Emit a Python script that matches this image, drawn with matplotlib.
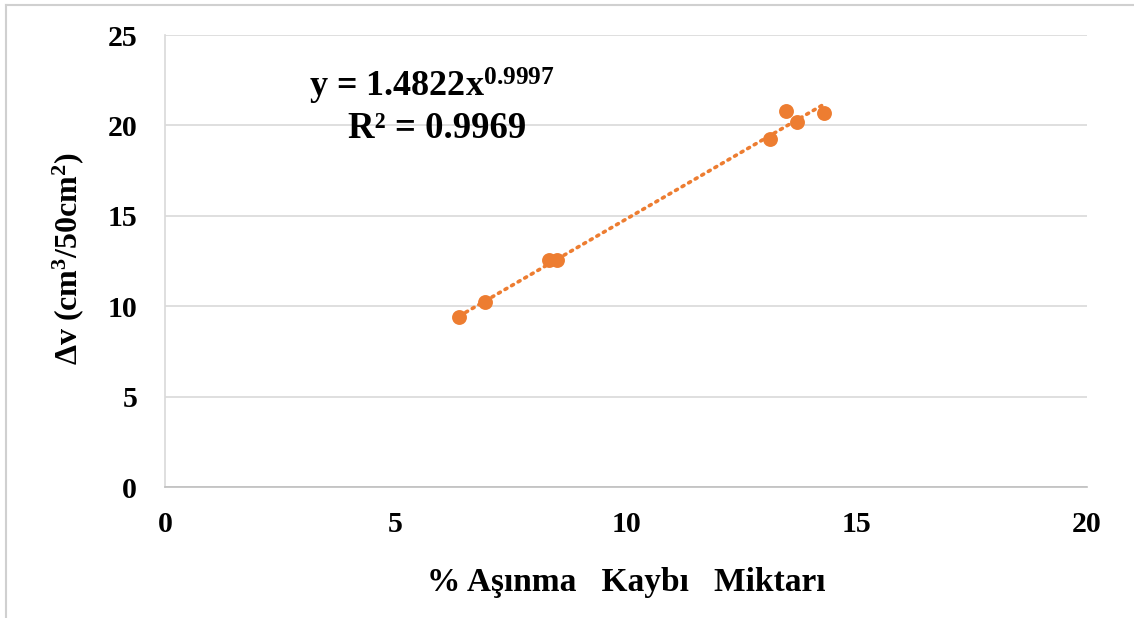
import numpy as np
import matplotlib
matplotlib.use("Agg")
import matplotlib.pyplot as plt
from matplotlib.lines import Line2D

plt.rcParams['font.family'] = ['Liberation Serif', 'DejaVu Serif']
plt.rcParams['mathtext.fontset'] = 'custom'
plt.rcParams['mathtext.rm'] = 'Liberation Serif:bold'
plt.rcParams['mathtext.bf'] = 'Liberation Serif:bold'
plt.rcParams['mathtext.default'] = 'bf'

# Data
wear_loss = [6.38, 6.94, 8.33, 8.51, 13.13, 13.46, 13.71, 14.30]
delta_v = [9.41, 10.24, 12.58, 12.58, 19.27, 20.79, 20.18, 20.68]
fit_a = 1.4822
fit_b = 0.9997
r_squared = 0.9969
x_ticks = [0, 5, 10, 15, 20]
y_ticks = [0, 5, 10, 15, 20, 25]

orange = '#ED7D31'
grid_c = '#D9D9D9'

fig = plt.figure(figsize=(11.34, 6.18), dpi=100)
ax = fig.add_axes([165/1134, 1-487/618, (1087-165)/1134, (487-35)/618])

ax.scatter(wear_loss, delta_v, s=115, color=orange, zorder=3, linewidths=0)
xf = np.linspace(min(wear_loss), max(wear_loss), 100)
ax.plot(xf, fit_a * xf**fit_b, color=orange, lw=2.6, linestyle=(0, (0.6, 1.5)),
        dash_capstyle='round', zorder=2)

ax.set_xlim(0, 20)
ax.set_ylim(0, 25)
ax.set_xticks(x_ticks)
ax.set_yticks(y_ticks)
ax.set_xticklabels([str(t) for t in x_ticks], fontsize=21.5, fontweight='bold')
ax.set_yticklabels([str(t) for t in y_ticks], fontsize=21.5, fontweight='bold')
ax.tick_params(axis='x', length=0, pad=17)
ax.tick_params(axis='y', length=0, pad=20)
ax.yaxis.grid(True, color=grid_c, lw=1.2)
ax.set_axisbelow(True)
for s in ['top', 'right']:
    ax.spines[s].set_visible(False)
ax.spines['left'].set_color(grid_c)
ax.spines['bottom'].set_color('#BFBFBF')
ax.spines['left'].set_linewidth(1.2)
ax.spines['bottom'].set_linewidth(1.2)

ax.set_xlabel('% Aşınma   Kaybı   Miktarı', fontsize=24, fontweight='bold')
ax.xaxis.set_label_coords(626/1134, 1-582/618, transform=fig.transFigure)
ax.set_ylabel(r'Δv (cm$^{3}$/50cm$^{2}$)', fontsize=23, fontweight='bold')
ax.yaxis.set_label_coords(68/1134, 1-258/618, transform=fig.transFigure)
ax.xaxis.label.set_va('center')
ax.yaxis.label.set_va('center')

fig.text(432/1134, 1-86/618, r'y = 1.4822x$^{0.9997}$', fontsize=26, fontweight='bold',
         ha='center', va='center')
fig.text(437/1134, 1-128/618, 'R² = 0.9969', fontsize=26.5, fontweight='bold',
         ha='center', va='center')

# chart frame (top and left edges visible)
fig.add_artist(Line2D([6/1134, 1.0], [1-5/618, 1-5/618], color='#D0D0D0', lw=1.5))
fig.add_artist(Line2D([6/1134, 6/1134], [0, 1-5/618], color='#D0D0D0', lw=1.5))

fig.savefig('out.png', dpi=100)
